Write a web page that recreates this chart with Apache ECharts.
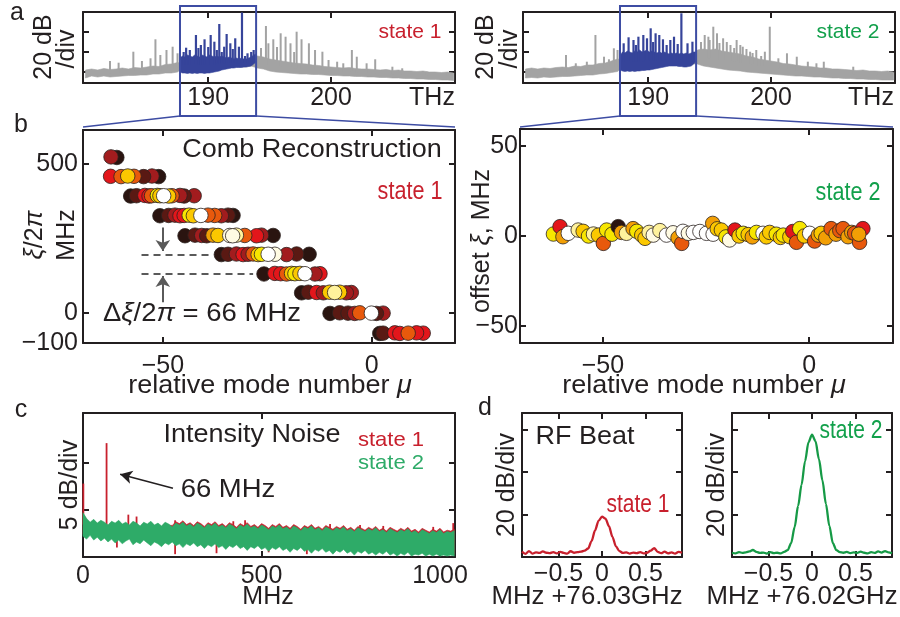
<!DOCTYPE html>
<html><head><meta charset="utf-8">
<script src="https://cdn.jsdelivr.net/npm/echarts@6.0.0/dist/echarts.min.js"></script>
<style>html,body{margin:0;padding:0;background:#fff}#c{width:900px;height:617px}</style>
</head><body><div id="c"></div><script>
// ---------------- DATA ----------------
// panel a : optical spectra (THz, dB)
const grayTHz = [180,180.5,181,181.5,182,182.5,183,183.5,184,184.5,185,185.5,186,186.5,187,187.5,188,188.5,189,189.5,190,190.5,191,191.5,192,192.5,193,193.5,194,194.5,195,195.5,196,196.5,197,197.5,198,198.5,199,199.5,200,200.5,201,201.5,202,202.5,203,203.5,204,204.5,205,205.5,206,206.5,207,207.5,208,208.5,209,209.5,210];
const gray1Top = [-58,-57,-58,-56.5,-57.5,-57,-56,-57,-55.5,-56,-55,-54,-54.5,-52.5,-52,-50.5,-52,-52,-52,-52,-52,-52,-52,-52,-52,-52,-52,-48,-44,-45,-47,-48,-49,-50,-51,-51.5,-52,-53,-53.5,-54.5,-55,-55.5,-56,-55.5,-56.5,-57,-57,-57.5,-58,-57.5,-58.5,-58,-59,-59,-59.5,-59,-60,-60,-60.5,-60,-61];
const gray1Bot = [-66,-64,-65,-64,-65,-64.5,-64,-63.5,-63.5,-63,-63,-62,-62,-61,-61,-60,-55,-55,-55,-55,-55,-55,-55,-55,-55,-55,-55,-54,-56,-57,-59,-60,-60.5,-61,-61.5,-62,-62,-62.5,-62.5,-63,-63.5,-63.5,-64,-64,-64.5,-64.5,-65,-65,-65.5,-65.5,-66,-66,-66.5,-66.5,-67,-67,-67.5,-67.5,-68,-68,-68.5];
const gray2Top = [-57,-56,-57,-56,-56.5,-55.5,-55,-55.5,-54,-54.5,-53,-53,-51.5,-51,-49,-47,-48,-48,-48,-48,-48,-48,-48,-48,-48,-48,-48,-46,-38,-37,-38,-37,-39,-40,-41,-42,-44,-45,-47,-48,-49,-50,-51.5,-52,-53,-54,-54.5,-55,-56,-56,-57,-57,-57.5,-58,-58.5,-58,-59,-59,-59.5,-59,-60];
const gray2Bot = [-66,-65.5,-66,-65,-65.5,-65,-64.5,-64.5,-64,-63.5,-63,-63,-62,-61.5,-60.5,-59.5,-54,-54,-54,-54,-54,-53,-53,-53,-53,-53,-53,-52,-52,-54,-55,-56,-57,-58,-58.5,-59,-60,-60.5,-61,-61.5,-62,-62.5,-63,-63.5,-64,-64,-64.5,-65,-65,-65.5,-66,-66,-66.5,-66.5,-67,-67,-67.5,-67.5,-68,-68,-68];
const blueTHz = [187.7,187.9,188.1,188.3,188.5,188.7,188.9,189.1,189.3,189.5,189.7,189.9,190.1,190.3,190.5,190.7,190.9,191.1,191.3,191.5,191.7,191.9,192.1,192.3,192.5,192.7,192.9,193.1,193.3,193.5,193.7,193.9];
const blue1Top = [-46,-44,-45,-43,-44,-45,-43,-44,-45,-43,-44,-45,-43,-44,-45,-44,-45,-44,-45,-46,-45,-46,-47,-46,-47,-46,-47,-47,-46,-45,-43,-42];
const blue1Bot = [-60,-61,-61,-61.5,-61,-61.5,-61,-61.5,-61,-61,-61.5,-61,-61,-60.5,-60,-59.5,-59,-58,-57.5,-57,-56.5,-56,-56,-55.5,-55.5,-55.5,-55,-55,-54.5,-54,-52,-50];
const blue2Top = [-44,-40,-41,-39,-40,-41,-39,-40,-38,-40,-39,-38,-40,-39,-40,-41,-40,-41,-40,-41,-42,-41,-42,-41,-42,-41,-42,-41,-42,-41,-40,-40];
const blue2Bot = [-58,-59,-59.5,-59,-59.5,-59,-59.5,-59,-59,-58.5,-58.5,-58,-58,-57.5,-57,-56.5,-56,-55.5,-55,-54.5,-54,-54,-54,-54,-54.5,-54.5,-55,-55,-54.5,-54,-52,-49];
const gray1SpTHz = [182.0,182.7,183.9,184.6,185.3,185.7,186.1,186.6,187.1,187.5,194.3,194.7,194.9,195.3,195.6,195.9,196.3,196.7,197.0,197.2,197.6,198.2,198.7,199.3,199.8,200.5,201.0,201.7,202.1,202.9,203.6,205.0,205.8,207.8,209.5];
const gray1SpDB  = [-49,-50.7,-39.7,-49,-46.3,-27.3,-43,-38,-34.7,-41.3,-36,-14,-31.3,-27.3,-35,-21.3,-24.7,-31.3,-40,-19.7,-27.3,-31.3,-38,-39.7,-48,-49.7,-51.3,-38,-44.7,-51.3,-47.3,-54.7,-56.3,-59.7,-60.7];
const blue1SpTHz = [188.0,188.2,188.5,189.0,189.2,189.4,189.7,190.0,190.2,190.5,190.7,190.9,191.1,191.3,191.5,191.8,192.0,192.2,192.5,192.75,193.0,193.2,193.5,193.7];
const blue1SpDB  = [-40,-35.7,-38,-23,-36,-33,-27.3,-35,-23,-29.7,-38,-12,-40,-34.7,-22,-31.3,-37,-26.3,-34.7,-0.5,-44,-41.3,-40,-38];
const gray2SpTHz = [183.3,184.1,185.0,185.7,186.4,186.8,187.2,187.5,194.3,194.6,194.9,195.0,195.3,195.6,195.8,196.1,196.4,196.7,197.0,197.2,197.5,197.7,198.0,198.3,198.5,198.8,199.2,199.5,199.9,200.6,201.3,202.1,203.0,203.7,204.3,206.7,208.6];
const gray2SpDB  = [-43,-51.3,-49.7,-23,-44.7,-47.3,-36.3,-38,-30,-23,-24.7,-28,-14.7,-21.3,-31,-26.3,-30,-33,-36,-28,-33,-34.7,-37,-39.7,-41,-38,-44,-39.7,-14.7,-46.3,-41.3,-44.7,-49.7,-51.3,-49.7,-54.7,-59.7];
const blue2SpTHz = [188.0,188.4,188.8,189.0,189.2,189.6,189.9,190.2,190.4,190.6,190.9,191.2,191.5,191.8,192.1,192.4,192.7,193.2,193.6];
const blue2SpDB  = [-31.3,-25.3,-28,-33,-24.7,-23,-26.3,-16.3,-30,-21.3,-23,-27.3,-33,-28,-24.7,-32,-1.3,-31.3,-29.7];
const zoomTHz = [187.7, 193.9];
const aTicks = [190, 200];
const aYTicks = [-60, -40, -20];

// panel b : comb reconstruction (mu, xi MHz, colour level 0..10)
const s1Mu = [-61.0,-62.4,
  -62.5,-60.0,-51.0,-52.6,-54.6,-56.9,-58.4,
  -57.7,-56.3,-54.3,-53.3,-52.7,-51.3,-42.5,-44.9,-45.9,-47.8,-48.6,-50.7,-49.8,
  -50.7,-48.6,-47.1,-45.9,-44.9,-43.7,-42.7,-33.2,-34.4,-36.0,-37.6,-39.2,-40.9,
  -44.7,-42.3,-40.7,-39.5,-38.0,-36.8,-23.6,-26.4,-27.6,-30.4,-32.4,-34.0,-33.3,
  -36.0,-34.4,-32.4,-30.8,-29.6,-28.4,-27.2,-26.4,-15.0,-18.0,-20.4,-23.2,-24.8,
  -25.8,-23.2,-21.8,-20.4,-19.2,-18.4,-12.4,-13.6,-17.2,-16.0,
  -16.8,-15.2,-13.2,-11.6,-10.1,-4.9,-6.1,-7.7,-8.9,
  -10.0,-7.7,-5.7,-4.1,-2.9,2.7,1.1,-0.1,
  1.9,2.7,5.5,6.7,12.3,10.7,8.7];
const s1Xi = [521,523,
  458,457,457,459,457,458,459,
  392,393,394,392,393,394,393,392,394,393,392,393,393,
  326,327,328,326,327,328,326,327,328,326,327,328,327,
  259,261,260,259,261,260,260,261,259,260,261,260,259,
  196,197,198,196,197,198,196,197,197,198,196,197,197,
  131,133,132,131,133,132,132,131,133,132,
  68,70,69,68,70,69,68,70,69,
  -1,1,0,-1,1,0,-1,0,
  -68,-67,-66,-68,-67,-66,-67];
const s1Lvl = [0,2,
  3,4,0,2,1,4,6,
  0,1,3,3,4,7,2,1,2,4,6,6,10,
  0,1,2,3,3,7,6,0,1,2,4,4,10,
  0,1,2,1,5,6,0,2,3,4,8,9,9,
  0,1,2,3,2,4,6,7,0,1,2,9,10,
  0,3,3,4,6,7,3,2,6,10,
  0,1,3,2,6,2,2,6,8,
  0,1,1,2,4,2,1,10,
  0,1,3,3,3,3,4];
const s2Mu = [-62.0,-60.4,-59.7,-58.4,-56.0,-54.8,-53.5,-52.3,-51.1,-49.9,-49.1,-47.8,-46.3,-45.5,-44.3,-42.7,-41.8,-40.6,-39.8,-38.8,-37.8,-36.2,-34.6,-33.0,-31.8,-30.9,-30.6,-29.3,-28.1,-26.5,-24.9,-23.4,-23.3,-22.3,-21.3,-20.2,-19.3,-18.0,-17.0,-16.0,-14.8,-13.8,-12.8,-11.2,-10.4,-9.6,-8.0,-7.0,-6.3,-4.7,-4.0,-3.1,-2.3,-1.2,0.1,1.3,2.2,2.9,4.0,5.3,6.5,7.4,8.2,9.4,10.3,11.0,12.2,13.0,12.0];
const s2Xi = [1.1,5.2,-0.4,1.5,3.3,2.6,0.0,1.1,0.5,-4.1,3.3,1.0,5.2,2.0,1.5,4.1,2.6,0.5,-1.3,2.0,0.5,3.0,0.5,1.8,-1.0,-4.1,2.6,1.5,2.0,2.5,1.5,7.0,1.0,4.0,3.3,-0.5,-2.2,3.3,0.0,1.5,0.8,-0.5,2.0,1.5,-0.5,2.0,1.0,-0.8,0.5,-0.4,2.5,-3.5,4.1,0.0,1.5,-2.8,0.5,1.5,-1.0,4.1,1.0,3.0,4.1,-0.4,2.0,1.5,-3.5,4.1,1.0];
const s2Lvl = [7,3,5,10,8,6,7,8,6,4,7,7,0,5,8,5,7,6,6,8,9,8,10,9,5,4,10,9,10,10,10,5,10,6,6,7,9,3,6,7,6,5,7,10,6,6,7,6,7,6,3,4,7,6,10,4,5,6,5,4,5,4,4,5,5,4,4,3,5];
const bTicks = [-50, 0];
const b1YLabels = [-100, 0, 500];
const b1YTicks = [0, 500];
const b2YTicks = [-50, 0, 50];
const dashXi = [197, 132];
const dashMu = [-55.1, -37.9, -28.4];
const arrowMu = -50;
const arrowDown = [287, 208], arrowUp = [36, 124];

// panel c : intensity noise (MHz, dB)
const noiseMHz = [0,10,20,30,40,50,60,70,80,90,100,110,120,130,140,150,160,170,180,190,200,210,220,230,240,250,260,270,280,290,300,310,320,330,340,350,360,370,380,390,400,410,420,430,440,450,460,470,480,490,500,510,520,530,540,550,560,570,580,590,600,610,620,630,640,650,660,670,680,690,700,710,720,730,740,750,760,770,780,790,800,810,820,830,840,850,860,870,880,890,900,910,920,930,940,950,960,970,980,990,1000,1010,1020,1030,1040];
const greenTop = [4.7,4.1,3.7,4.0,3.6,3.9,3.7,3.4,3.8,3.6,3.9,3.5,3.7,3.4,3.8,3.6,3.3,3.7,3.5,3.8,3.4,3.6,3.3,3.7,3.5,3.2,3.6,3.4,3.7,3.3,3.5,3.2,3.6,3.4,3.1,3.5,3.3,3.6,3.2,3.4,3.1,3.5,3.3,3.0,3.4,3.2,3.5,3.1,3.3,3.0,3.4,3.2,2.9,3.3,3.1,3.4,3.0,3.2,2.9,3.3,3.1,2.8,3.2,3.0,3.3,2.9,3.1,2.8,3.2,3.0,2.8,3.1,2.9,3.2,2.8,3.0,2.7,3.1,2.9,2.7,3.0,2.8,3.1,2.7,2.9,2.6,3.0,2.8,2.6,2.9,2.7,3.0,2.6,2.8,2.5,2.9,2.7,2.5,2.8,2.6,2.9,2.5,2.7,2.6,2.8];
const greenBot = [2.2,1.9,2.3,1.8,2.1,1.7,2.0,1.6,1.9,1.5,1.8,1.4,1.7,1.9,1.3,1.6,1.4,1.8,1.5,1.2,1.6,1.4,1.1,1.5,1.3,1.6,1.2,1.4,1.0,1.4,1.2,1.5,1.1,1.3,0.9,1.3,1.1,1.4,1.0,1.2,0.8,1.2,1.0,1.3,0.9,1.1,0.7,1.1,0.9,1.2,0.8,1.0,0.6,1.0,0.8,1.1,0.7,0.9,0.5,0.9,0.7,1.0,0.6,0.8,0.4,0.8,0.6,0.9,0.5,0.7,0.3,0.7,0.5,0.8,0.4,0.6,0.2,0.6,0.4,0.7,0.3,0.5,0.2,0.5,0.3,0.6,0.2,0.4,0.1,0.4,0.2,0.5,0.1,0.3,0.2,0.4,0.1,0.3,0.1,0.3,0.1,0.2,0.1,0.2,0.1];
const redTop = [4.6,4.0,3.6,3.9,3.5,3.8,3.6,3.3,3.7,3.5,3.8,3.4,3.6,3.3,3.7,3.5,3.2,3.6,3.4,3.7,3.3,3.5,3.2,3.6,3.4,3.35,3.75,3.55,3.85,3.45,3.65,3.35,3.75,3.55,3.25,3.65,3.45,3.75,3.35,3.55,3.25,3.65,3.45,3.15,3.55,3.35,3.65,3.25,3.45,3.15,3.55,3.35,3.05,3.45,3.25,3.55,3.15,3.35,3.05,3.45,3.25,2.95,3.35,3.15,3.45,3.05,3.25,2.95,3.35,3.15,2.95,3.25,3.05,3.35,2.95,3.15,2.85,3.25,3.05,2.85,3.15,2.95,3.25,2.85,3.05,2.75,3.15,2.95,2.75,3.05,2.85,3.15,2.75,2.95,2.65,3.05,2.85,2.65,2.95,2.75,3.05,2.65,2.85,2.75,2.95];
const redBot = [2.4,2.1,2.5,2.0,2.3,1.9,2.2,1.8,2.1,1.7,2.0,1.6,1.9,2.1,1.5,1.8,1.6,2.0,1.7,1.4,1.8,1.6,1.3,1.7,1.5,1.8,1.4,1.6,1.2,1.6,1.4,1.7,1.3,1.5,1.1,1.5,1.3,1.6,1.2,1.4,1.0,1.4,1.2,1.5,1.1,1.3,0.9,1.3,1.1,1.4,1.0,1.2,0.8,1.2,1.0,1.3,0.9,1.1,0.7,1.1,0.9,1.2,0.8,1.0,0.6,1.0,0.8,1.1,0.7,0.9,0.5,0.9,0.7,1.0,0.6,0.8,0.4,0.8,0.6,0.9,0.5,0.7,0.4,0.7,0.5,0.8,0.4,0.6,0.3,0.6,0.4,0.7,0.3,0.5,0.4,0.6,0.3,0.5,0.3,0.5,0.3,0.4,0.3,0.4,0.3];
const redSpMHz = [1, 66, 127, 150, 258, 421, 454, 692, 776, 841, 981, 1037, 95, 258, 374, 520, 627, 757, 1033];
const redSpDB  = [7.8, 12.1, 4.5, 4.3, 3.9, 3.8, 3.9, 3.5, 3.4, 3.3, 3.2, 3.6, 1.0, 0.3, 0.4, 0.5, 0.3, 0.5, 0.2];
const cArrow = [[252, 7.3], [104, 8.8]];
const cTicks = [0, 500, 1000];
const cYTicks = [5, 10];

// panel d : RF beat (MHz offset, dB)
const dMHz = [-0.92,-0.88,-0.84,-0.80,-0.76,-0.72,-0.68,-0.64,-0.60,-0.56,-0.52,-0.48,-0.44,-0.40,-0.36,-0.32,-0.28,-0.24,-0.20,-0.16,-0.12,-0.08,-0.04,0,0.04,0.08,0.12,0.16,0.20,0.24,0.28,0.32,0.36,0.40,0.44,0.48,0.52,0.56,0.60,0.64,0.68,0.72,0.76,0.80,0.84,0.88,0.92];
const dRed = [2.5,1.5,2.8,1.6,2.2,1.9,2.6,2.0,1.8,2.3,1.7,2.4,1.9,1.6,2.7,2.0,2.3,2.5,3.0,4.0,7.5,12.5,17.0,19.0,18.0,14.5,9.5,5.0,2.8,1.9,2.2,1.6,2.1,1.8,2.3,1.7,2.0,3.0,4.2,2.4,1.8,2.5,1.7,2.2,1.6,2.4,2.0];
const dGreen = [2.0,1.7,2.3,1.9,2.2,2.6,3.3,2.4,1.9,2.1,1.6,2.3,1.8,2.0,1.7,2.4,3.2,6.5,14.0,24.0,34.0,45.0,54.0,57.5,54.5,46.0,36.0,25.0,14.5,6.5,3.2,2.3,2.0,2.4,1.8,2.2,1.9,2.5,2.0,1.7,2.3,1.9,2.6,2.1,2.8,2.2,1.8];
const dTicks = [-0.5, 0, 0.5];
const dYTicks = [20, 40, 60];

// ---------------- STYLE ----------------
const INK = '#231f20', RED = '#c8202d', GREEN = '#12a04b', BAND_G = '#2eab68';
const GRAY = '#a3a3a3', BLUE = '#36449a', BOX = '#3d4ca3', DASH = '#5a5a5a';
const FONT = "'Liberation Sans', Arial, Helvetica, sans-serif";
const HOT = ['#2a1410','#5a1913','#a21c1e','#e3161b','#e8590c','#f29f05','#fbc800','#f7e600','#fff29c','#fffbe3','#ffffff'];

const grids = [
  {left:83, top:12, width:372, height:71},
  {left:523, top:12, width:372, height:71},
  {left:83, top:130, width:372, height:213},
  {left:520, top:129, width:373, height:214},
  {left:83, top:413, width:372, height:144},
  {left:522, top:413, width:160, height:144},
  {left:732, top:413, width:160, height:144}
];
const AX = [
  {x:[179.8,210.1], y:[-71,0], xt:aTicks, xtTop:aTicks, xl:aTicks, xm:3, yt:aYTicks, yl:null},
  {x:[179.8,210.1], y:[-71,0], xt:aTicks, xtTop:aTicks, xl:aTicks, xm:3, yt:aYTicks, yl:null},
  {x:[-69.1,19.9], y:[-100,613], xt:bTicks, xtTop:bTicks, xl:bTicks, xm:11, yt:b1YTicks, yl:b1YLabels, ym:5},
  {x:[-70.1,20.3], y:[-59.4,59.4], xt:bTicks, xtTop:bTicks, xl:bTicks, xm:11, yt:b2YTicks, yl:b2YTicks, ym:2},
  {x:[0,1042], y:[0,15.3], xt:[500,1000], xtTop:[500], xl:cTicks, xm:7, yt:cYTicks, yl:null},
  {x:[-0.92,0.92], y:[0,67.7], xt:dTicks, xtTop:dTicks, xl:dTicks, xm:5, yt:dYTicks, yl:null},
  {x:[-0.92,0.92], y:[0,67.7], xt:dTicks, xtTop:dTicks, xl:dTicks, xm:5, yt:dYTicks, yl:null}
];
const fmt = v => String(v).replace('-', '\u2212');
const xAxis = [], yAxis = [];
AX.forEach((c, g) => {
  const line = {show:true, onZero:false, lineStyle:{color:INK, width:2}};
  const tick = vals => ({show:true, inside:true, length:6, lineStyle:{color:INK, width:2}, customValues: vals});
  const lab = (vals, m) => vals ? {show:true, customValues:vals, formatter:fmt, color:INK, fontSize:25, fontFamily:FONT, margin:m, hideOverlap:false} : {show:false};
  xAxis.push({type:'value', gridIndex:g, position:'bottom', min:c.x[0], max:c.x[1], axisLine:line, axisTick:tick(c.xt), axisLabel:lab(c.xl, c.xm), splitLine:{show:false}});
  xAxis.push({type:'value', gridIndex:g, position:'top', min:c.x[0], max:c.x[1], axisLine:line, axisTick:tick(c.xtTop), axisLabel:{show:false}, splitLine:{show:false}});
  yAxis.push({type:'value', gridIndex:g, position:'left', min:c.y[0], max:c.y[1], axisLine:line, axisTick:tick(c.yt), axisLabel:lab(c.yl, c.ym), splitLine:{show:false}});
  yAxis.push({type:'value', gridIndex:g, position:'right', min:c.y[0], max:c.y[1], axisLine:line, axisTick:tick(c.yt), axisLabel:{show:false}, splitLine:{show:false}});
});

// a filled band between an upper and a lower trace, drawn as one polygon through the axis scales
function band(g, xs, tops, bots, color, z, extra) {
  return Object.assign({type:'custom', xAxisIndex:2*g, yAxisIndex:2*g, z, silent:true,
    dimensions:['x','top','bot'], encode:{x:'x', y:['top','bot']},
    data: xs.map((x, i) => [x, tops[i], bots[i]]),
    renderItem: (p, api) => {
      if (p.dataIndex !== 0) return null;
      const upper = xs.map((x, i) => api.coord([x, tops[i]]));
      const lower = xs.map((x, i) => api.coord([x, bots[i]])).reverse();
      return {type:'polygon', shape:{points: upper.concat(lower)}, style:{fill:color, stroke:color, lineWidth:0.6}};
    }}, extra || {});
}
// each spike rises (or dips) from the middle of the band at the nearest sample
function spikes(g, spX, spY, xs, tops, bots, color, w, z) {
  const data = spX.map((x, k) => {
    let i = 0;
    for (let j = 1; j < xs.length; j++) if (Math.abs(xs[j] - x) < Math.abs(xs[i] - x)) i = j;
    return [x, spY[k], (tops[i] + bots[i]) / 2];
  });
  return {type:'custom', xAxisIndex:2*g, yAxisIndex:2*g, z, silent:true,
    dimensions:['x','peak','base'], encode:{x:'x', y:['peak','base']}, data,
    renderItem: (p, api) => {
      const a = api.coord([api.value(0), api.value(2)]);
      const b = api.coord([api.value(0), api.value(1)]);
      return {type:'line', shape:{x1:a[0], y1:a[1], x2:b[0], y2:b[1]}, style:{stroke:color, lineWidth:w}};
    }};
}
const solid = {type:'solid', color:DASH, width:2};
const series = [
  band(0, grayTHz, gray1Top, gray1Bot, GRAY, 2),
  spikes(0, gray1SpTHz, gray1SpDB, grayTHz, gray1Top, gray1Bot, GRAY, 2, 3),
  band(0, blueTHz, blue1Top, blue1Bot, BLUE, 4),
  spikes(0, blue1SpTHz, blue1SpDB, blueTHz, blue1Top, blue1Bot, BLUE, 2.2, 5),
  band(1, grayTHz, gray2Top, gray2Bot, GRAY, 2),
  spikes(1, gray2SpTHz, gray2SpDB, grayTHz, gray2Top, gray2Bot, GRAY, 2, 3),
  band(1, blueTHz, blue2Top, blue2Bot, BLUE, 4),
  spikes(1, blue2SpTHz, blue2SpDB, blueTHz, blue2Top, blue2Bot, BLUE, 2.2, 5),
  {type:'scatter', xAxisIndex:4, yAxisIndex:4, z:3, silent:true, symbolSize:14.5,
    data: s1Mu.map((m, i) => [m, s1Xi[i], s1Lvl[i]]),
    itemStyle:{color: p => HOT[p.value[2]], borderColor:'#2b2220', borderWidth:0.8, opacity:1},
    markLine:{silent:true, animation:false, symbol:['none','none'], symbolSize:11, label:{show:false},
      lineStyle:{color:DASH, width:2, type:[7,5]},
      data:[
        [{coord:[dashMu[0], dashXi[0]]}, {coord:[dashMu[1], dashXi[0]]}],
        [{coord:[dashMu[0], dashXi[1]]}, {coord:[dashMu[2], dashXi[1]]}],
        [{coord:[arrowMu, arrowDown[0]], lineStyle:solid}, {coord:[arrowMu, arrowDown[1]], symbol:'arrow', lineStyle:solid}],
        [{coord:[arrowMu, arrowUp[0]], lineStyle:solid}, {coord:[arrowMu, arrowUp[1]], symbol:'arrow', lineStyle:solid}]
      ]}},
  {type:'scatter', xAxisIndex:6, yAxisIndex:6, z:3, silent:true, symbolSize:14.5,
    data: s2Mu.map((m, i) => [m, s2Xi[i], s2Lvl[i]]),
    itemStyle:{color: p => HOT[p.value[2]], borderColor:'#2b2220', borderWidth:0.8, opacity:1}},
  band(4, noiseMHz, redTop, redBot, RED, 2),
  spikes(4, redSpMHz, redSpDB, noiseMHz, greenTop, greenBot, RED, 1.8, 2),
  band(4, noiseMHz, greenTop, greenBot, BAND_G, 3, {
    markLine:{silent:true, animation:false, symbol:['none','arrow'], symbolSize:[10,12], label:{show:false},
      lineStyle:{color:INK, width:1.5, type:'solid'},
      data:[[{coord:cArrow[0]}, {coord:cArrow[1]}]]}}),
  {type:'line', xAxisIndex:10, yAxisIndex:10, z:3, silent:true, showSymbol:false, symbol:'none', smooth:0.3, smoothMonotone:'x',
    data: dMHz.map((x, i) => [x, dRed[i]]), lineStyle:{color:RED, width:2.3}},
  {type:'line', xAxisIndex:12, yAxisIndex:12, z:3, silent:true, showSymbol:false, symbol:'none', smooth:0.3, smoothMonotone:'x',
    data: dMHz.map((x, i) => [x, dGreen[i]]), lineStyle:{color:'#169a46', width:2.3}}
];

const chart = echarts.init(document.getElementById('c'), null, {renderer:'canvas'});
chart.setOption({
  animation:false, backgroundColor:'#ffffff',
  grid: grids.map(g => Object.assign({containLabel:false, outerBoundsMode:'none'}, g)),
  xAxis, yAxis, series
});

// ---------------- ANNOTATIONS ----------------
function T(x, y, text, o) {
  o = o || {};
  const size = o.size || 25, fam = FONT, col = o.color || INK;
  return {type:'text', x, y, rotation: o.rot || 0, scaleX: o.sx || 1, z:100, silent:true,
    style:{text, fill:col, font:`${size}px ${fam}`, fontSize:size, fontFamily:fam, align:'center', verticalAlign:'middle',
      rich:{i:{fill:col, font:`italic ${size}px ${fam}`, fontStyle:'italic', fontSize:size, fontFamily:fam}}}};
}
const R = Math.PI / 2;
const g = [];
[[0, 2], [2, 3]].forEach(([xa, gb]) => {
  const x1 = chart.convertToPixel({xAxisIndex:xa}, zoomTHz[0]);
  const x2 = chart.convertToPixel({xAxisIndex:xa}, zoomTHz[1]);
  const gr = grids[gb];
  g.push({type:'rect', z:90, silent:true, shape:{x:x1, y:6, width:x2 - x1, height:110}, style:{fill:null, stroke:BOX, lineWidth:2}});
  g.push({type:'polyline', z:90, silent:true, shape:{points:[[x1,116],[gr.left,127]]}, style:{stroke:BOX, lineWidth:1.6, fill:null}});
  g.push({type:'polyline', z:90, silent:true, shape:{points:[[x2,116],[gr.left + gr.width,127]]}, style:{stroke:BOX, lineWidth:1.6, fill:null}});
});
g.push(
  T(17, 13, 'a'), T(21, 125, 'b'), T(21, 410, 'c'), T(485, 408, 'd'),
  T(44, 47, '20 dB', {rot:R}), T(67, 49, '/div', {rot:R}),
  T(486, 47, '20 dB', {rot:R}), T(510, 49, '/div', {rot:R}),
  T(432, 98, 'THz'), T(871, 98, 'THz'),
  T(410, 32, 'state 1', {color:RED, size:21}), T(848, 32, 'state 2', {color:GREEN, size:21}),
  T(312, 150, 'Comb Reconstruction', {sx:1.08}),
  T(410, 192, 'state 1', {color:RED, size:26, sx:0.83}), T(848, 193, 'state 2', {color:GREEN, size:26, sx:0.83}),
  T(35, 235, '{i|ξ}/2{i|π}', {rot:R}), T(67, 235, 'MHz', {rot:R}),
  T(482, 241, 'offset {i|ξ}, MHz', {rot:R}),
  T(202, 314, 'Δ{i|ξ}/2{i|π} = 66 MHz', {sx:1.1}),
  T(270, 386, 'relative mode number {i|μ}', {sx:1.08}), T(704, 386, 'relative mode number {i|μ}', {sx:1.08}),
  T(252, 435, 'Intensity Noise', {sx:1.08}),
  T(391, 440, 'state 1', {color:RED, size:21, sx:1.05}), T(391, 463, 'state 2', {color:BAND_G, size:21, sx:1.05}),
  T(228, 490, '66 MHz', {sx:1.1}),
  T(70, 485, '5 dB/div', {rot:R}),
  T(268, 597, 'MHz'),
  T(585, 437, 'RF Beat', {sx:1.08}),
  T(638, 505, 'state 1', {color:RED, size:25, sx:0.84}),
  T(851, 431, 'state 2', {color:GREEN, size:25, sx:0.84}),
  T(507, 485, '20 dB/div', {rot:R}), T(717, 485, '20 dB/div', {rot:R}),
  T(587, 597, 'MHz +76.03GHz', {sx:1.03}), T(802, 597, 'MHz +76.02GHz', {sx:1.03})
);
chart.setOption({graphic: g});
</script></body></html>
